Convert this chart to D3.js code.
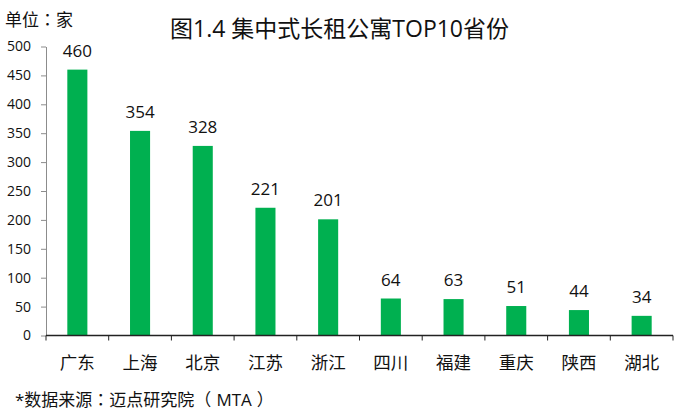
<!DOCTYPE html>
<html>
<head>
<meta charset="utf-8">
<script src="https://cdn.jsdelivr.net/npm/d3@7"></script>
<style>
  body { margin: 0; background: #fff; }
  svg text { font-family: "Open Sans", "Noto Sans CJK SC", sans-serif; fill: #111; }
  svg text.note { font-family: "Open Sans", "Noto Sans CJK TC", sans-serif; font-feature-settings: "chws" 0, "halt" 0; }
</style>
</head>
<body>
<script>
// data
const provinces = ["广东", "上海", "北京", "江苏", "浙江", "四川", "福建", "重庆", "陕西", "湖北"];
const counts = [460, 354, 328, 221, 201, 64, 63, 51, 44, 34];
const yTicks = [0, 50, 100, 150, 200, 250, 300, 350, 400, 450, 500];

const width = 693, height = 413;
const plotLeft = 46, plotRight = 673, plotTop = 46.5, plotBottom = 335.5;

const svg = d3.select("body").append("svg")
    .attr("width", width)
    .attr("height", height);

const x = d3.scaleBand()
    .domain(provinces)
    .range([plotLeft, plotRight])
    .paddingInner(0.68)
    .paddingOuter(0.34);

const y = d3.scaleLinear()
    .domain([0, 500])
    .range([plotBottom, plotTop]);

// y axis
const yAxis = svg.append("g")
    .attr("transform", "translate(" + plotLeft + ",0)")
    .call(d3.axisLeft(y).tickValues(yTicks).tickSize(5).tickPadding(10).tickSizeOuter(0));
yAxis.select(".domain").attr("stroke", "#8c8c8c");
yAxis.selectAll(".tick line").attr("stroke", "#8c8c8c");
yAxis.selectAll(".tick text")
    .style("font-size", "14px")
    .attr("fill", "#111");

// bars
svg.append("g").selectAll("rect")
    .data(counts)
    .enter().append("rect")
    .attr("x", (d, i) => x(provinces[i]))
    .attr("y", (d) => y(d))
    .attr("width", x.bandwidth())
    .attr("height", (d) => y(0) - y(d))
    .style("fill", "#00b050");

// value labels
svg.append("g").selectAll("text")
    .data(counts)
    .enter().append("text")
    .attr("x", (d, i) => x(provinces[i]) + x.bandwidth() / 2)
    .attr("y", (d) => y(d) - 13)
    .attr("text-anchor", "middle")
    .style("font-size", "17px")
    .text((d) => d);

// x axis with ticks on category boundaries
const xAxis = svg.append("g")
    .attr("transform", "translate(0," + plotBottom + ")");
xAxis.append("line")
    .attr("x1", plotLeft).attr("x2", plotRight)
    .attr("stroke", "#222").attr("stroke-width", 1.5);
xAxis.selectAll("line.tk")
    .data(d3.range(provinces.length + 1))
    .enter().append("line")
    .attr("class", "tk")
    .attr("x1", (i) => x.range()[0] + i * x.step())
    .attr("x2", (i) => x.range()[0] + i * x.step())
    .attr("y1", 0).attr("y2", 5)
    .attr("stroke", "#222");
xAxis.selectAll("text")
    .data(provinces)
    .enter().append("text")
    .attr("x", (d) => x(d) + x.bandwidth() / 2)
    .attr("y", 33)
    .attr("text-anchor", "middle")
    .style("font-size", "17.5px")
    .text((d) => d);

// titles
svg.append("text")
    .attr("x", 170).attr("y", 37)
    .style("font-size", "23px")
    .attr("fill", "#222")
    .text("图1.4 集中式长租公寓TOP10省份");

svg.append("text")
    .attr("class", "note")
    .attr("x", 5).attr("y", 26)
    .style("font-size", "17px")
    .text("单位：家");

// source line, nudged so the full-width brackets sit like the original
const note = svg.append("text")
    .attr("class", "note")
    .attr("x", 15).attr("y", 406)
    .style("font-size", "17px");
note.append("tspan").text("*数据来源：迈点研究院（");
note.append("tspan").attr("dx", 5).text("MTA");
note.append("tspan").attr("dx", 5).text("）");
</script>
</body>
</html>
